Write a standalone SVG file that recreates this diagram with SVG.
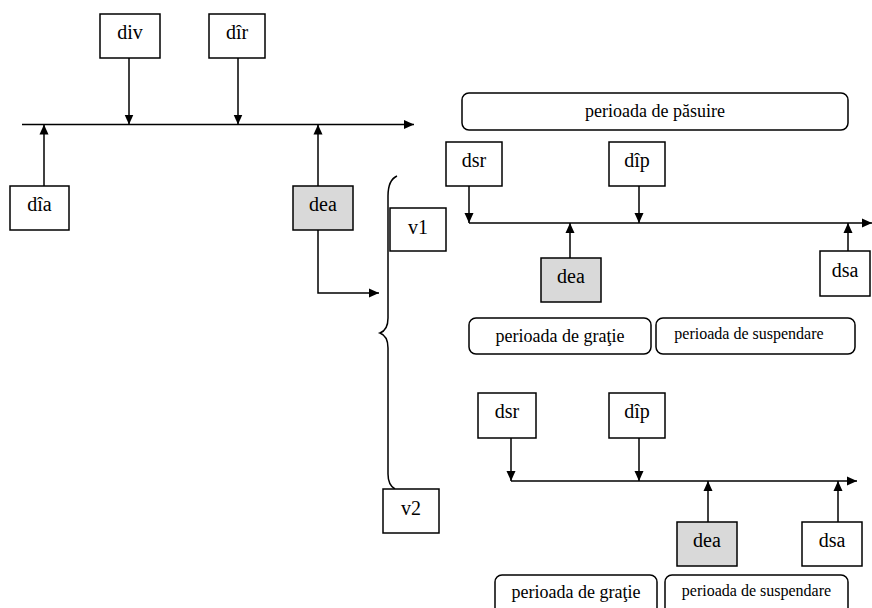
<svg xmlns="http://www.w3.org/2000/svg" width="872" height="608" viewBox="0 0 872 608">
<style>
.b{fill:#fff;stroke:#000;stroke-width:1.5}
.g{fill:#d9d9d9;stroke:#000;stroke-width:1.5}
.r{fill:#fff;stroke:#000;stroke-width:1.5}
text{font-family:'Liberation Serif','DejaVu Serif',serif;text-anchor:middle;fill:#000}
.t{font-size:20px}
.s{font-size:18px}
.u{font-size:16px}
.l{fill:none;stroke:#000;stroke-width:1.5}
</style>
<defs>
<marker id="a" viewBox="0 0 10 10" refX="10" refY="5" markerWidth="10" markerHeight="10" markerUnits="userSpaceOnUse" orient="auto">
<path d="M0,0.5 L10,5 L0,9.5 Z" fill="#000"/>
</marker>
</defs>
<g id="connectors">
<line class="l" x1="22" y1="124.5" x2="414" y2="124.5" marker-end="url(#a)"/>
<line class="l" x1="129" y1="58" x2="129" y2="124.5" marker-end="url(#a)"/>
<line class="l" x1="238" y1="58" x2="238" y2="124.5" marker-end="url(#a)"/>
<line class="l" x1="44" y1="186" x2="44" y2="124.5" marker-end="url(#a)"/>
<line class="l" x1="318" y1="186" x2="318" y2="124.5" marker-end="url(#a)"/>
<polyline class="l" points="318,230 318,293 379,293" marker-end="url(#a)"/>
<path class="l" d="M397,176 Q388,180 388,196 L388,318 Q388,330 380,333 Q388,336 388,348 L388,474 Q388,485 395,489"/>
<line class="l" x1="469" y1="223" x2="872" y2="223" marker-end="url(#a)"/>
<line class="l" x1="469" y1="186" x2="469" y2="223" marker-end="url(#a)"/>
<line class="l" x1="639" y1="186" x2="639" y2="223" marker-end="url(#a)"/>
<line class="l" x1="570" y1="258" x2="570" y2="223" marker-end="url(#a)"/>
<line class="l" x1="848" y1="251" x2="848" y2="223" marker-end="url(#a)"/>
<line class="l" x1="511" y1="481" x2="857" y2="481" marker-end="url(#a)"/>
<line class="l" x1="511" y1="438" x2="511" y2="481" marker-end="url(#a)"/>
<line class="l" x1="639" y1="438" x2="639" y2="481" marker-end="url(#a)"/>
<line class="l" x1="708" y1="522" x2="708" y2="481" marker-end="url(#a)"/>
<line class="l" x1="838" y1="522" x2="838" y2="481" marker-end="url(#a)"/>
</g>
<g id="div"><rect class="b" x="100" y="14" width="60" height="44"/><text class="t" x="130" y="39">div</text></g>
<g id="dir"><rect class="b" x="209" y="14" width="56" height="44"/><text class="t" x="237" y="39">dîr</text></g>
<g id="dia"><rect class="b" x="10" y="186" width="59" height="44"/><text class="t" x="39.5" y="211">dîa</text></g>
<g id="dea1"><rect class="g" x="293" y="186" width="60" height="44"/><text class="t" x="323" y="211">dea</text></g>
<g id="v1"><rect class="b" x="390" y="208" width="56" height="43"/><text class="t" x="418" y="234">v1</text></g>
<g id="v2"><rect class="b" x="383" y="489" width="56" height="44"/><text class="t" x="411" y="515">v2</text></g>
<g id="pasuire"><rect class="r" x="462" y="93" width="386" height="37" rx="7"/><text class="s" x="655" y="117">perioada de păsuire</text></g>
<g id="dsr1"><rect class="b" x="446" y="142" width="56" height="44"/><text class="t" x="474" y="167">dsr</text></g>
<g id="dip1"><rect class="b" x="609" y="142" width="56" height="44"/><text class="t" x="637" y="167">dîp</text></g>
<g id="dea2"><rect class="g" x="541" y="258" width="60" height="44"/><text class="t" x="571" y="283">dea</text></g>
<g id="dsa1"><rect class="b" x="820" y="251" width="50" height="45"/><text class="t" x="845" y="277">dsa</text></g>
<g id="gratie1"><rect class="r" x="469" y="318" width="182" height="36" rx="7"/><text class="s" x="560" y="342">perioada de graţie</text></g>
<g id="susp1"><rect class="r" x="656" y="318" width="199" height="36" rx="7"/><text class="u" x="749" y="339">perioada de suspendare</text></g>
<g id="dsr2"><rect class="b" x="478" y="393" width="58" height="45"/><text class="t" x="507" y="418">dsr</text></g>
<g id="dip2"><rect class="b" x="609" y="393" width="56" height="45"/><text class="t" x="637" y="418">dîp</text></g>
<g id="dea3"><rect class="g" x="677" y="522" width="60" height="44"/><text class="t" x="707" y="547">dea</text></g>
<g id="dsa2"><rect class="b" x="802" y="522" width="60" height="44"/><text class="t" x="832" y="547">dsa</text></g>
<g id="gratie2"><rect class="r" x="495" y="575" width="162" height="40" rx="7"/><text class="s" x="576" y="598">perioada de graţie</text></g>
<g id="susp2"><rect class="r" x="665" y="575" width="183" height="40" rx="7"/><text class="u" x="756.5" y="596">perioada de suspendare</text></g>
</svg>
